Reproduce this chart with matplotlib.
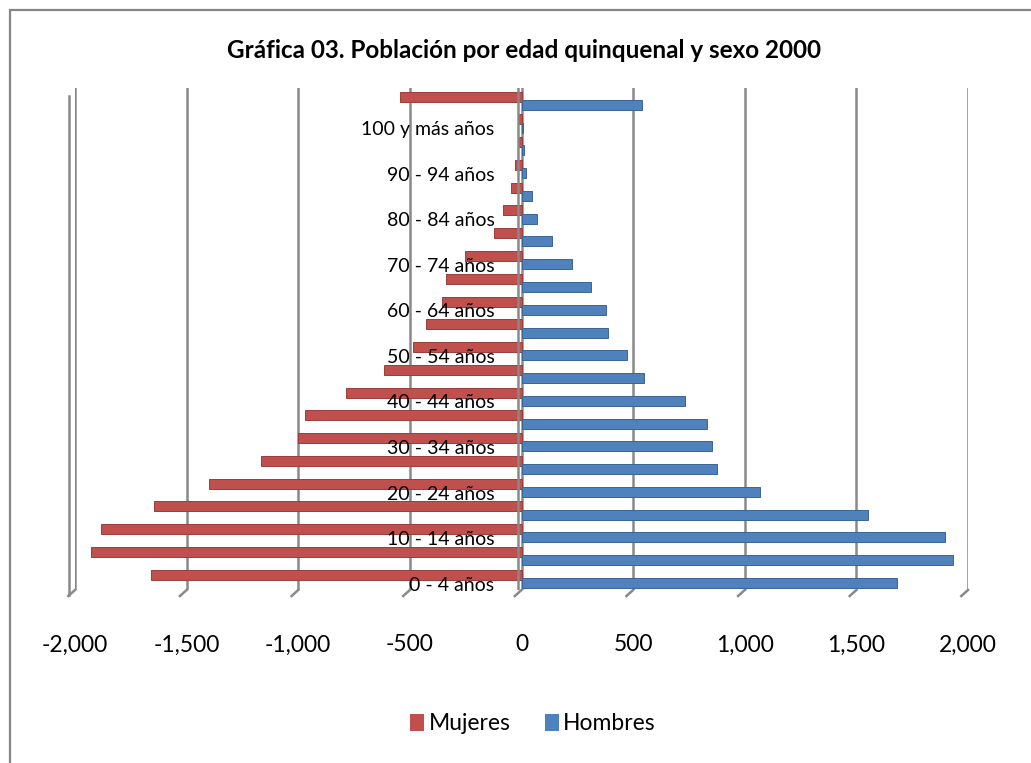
import matplotlib.pyplot as plt
import numpy as np
from matplotlib.patches import Patch, Rectangle
import matplotlib.transforms as mtransforms

plt.rcParams['font.family'] = ['Lato', 'DejaVu Sans']

# age groups, bottom to top
categorias = ['0 - 4 años', '5 - 9 años', '10 - 14 años', '15 - 19 años', '20 - 24 años',
              '25 - 29 años', '30 - 34 años', '35 - 39 años', '40 - 44 años', '45 - 49 años',
              '50 - 54 años', '55 - 59 años', '60 - 64 años', '65 - 69 años', '70 - 74 años',
              '75 - 79 años', '80 - 84 años', '85 - 89 años', '90 - 94 años', '95 - 99 años',
              '100 y más años', 'No especificado']

mujeres = [-1661, -1930, -1885, -1648, -1402, -1169, -1003, -972, -784, -614,
           -484, -430, -358, -336, -251, -121, -81, -49, -27, -13, -9, -546]
hombres = [1682, 1932, 1896, 1551, 1068, 875, 853, 831, 732, 549,
           472, 387, 378, 311, 226, 138, 70, 48, 22, 12, 8, 540]

xticks = [-2000, -1500, -1000, -500, 0, 500, 1000, 1500, 2000]
xticklabels = ['-2,000', '-1,500', '-1,000', '-500', '0', '500', '1,000', '1,500', '2,000']

red = '#C0504D'
blue = '#4F81BD'
grid_c = '#898989'

fig = plt.figure(figsize=(10.31, 7.63), dpi=100)
ax = fig.add_axes([75/1031, 1 - 590/763, 893/1031, 502/763])

y = np.arange(len(categorias))
h = 0.44
ax.barh(y + 0.19, mujeres, height=h, color=red, edgecolor='#9B3D3A', linewidth=0.7, zorder=3)
ax.barh(y - 0.17, hombres, height=h, color=blue, edgecolor='#3A6597', linewidth=0.7, zorder=3)

ax.set_xlim(-2000, 2000)
ax.set_ylim(-0.48, 21.57)

# gridlines (back wall) with slanted floor ticks
for v in xticks:
    ax.axvline(v, color=grid_c, linewidth=1.8, zorder=1)
    ax.plot([v, v - 30], [0, -0.012], color=grid_c, linewidth=1.8,
            transform=ax.get_xaxis_transform(), clip_on=False, zorder=1)

# left wall double line
off = mtransforms.offset_copy(ax.get_xaxis_transform(), fig=fig, x=-6, y=0, units='dots')
ax.plot([-2000, -2000], [-0.01, 0.985], color=grid_c, linewidth=1.8,
        transform=off, clip_on=False, zorder=1)

# vertical axis line at zero (front plane)
off0 = mtransforms.offset_copy(ax.get_xaxis_transform(), fig=fig, x=-4, y=0, units='dots')
ax.plot([0, 0], [0, 1], color=grid_c, linewidth=1.8, transform=off0, zorder=4)

for s in ax.spines.values():
    s.set_visible(False)
ax.set_yticks([])
ax.set_xticks(xticks)
ax.set_xticklabels(xticklabels, fontsize=16.5)
ax.tick_params(axis='x', length=0, pad=32)

# category labels next to the axis, every other one
lab_t = mtransforms.offset_copy(ax.transData, fig=fig, x=-27, y=-6, units='dots')
for i, c in enumerate(categorias):
    if i % 2 == 0:
        ax.text(0, i, c, ha='right', va='center', fontsize=14, transform=lab_t, zorder=5)

fig.text(524/1031, 1 - 50/763, 'Gráfica 03. Población por edad quinquenal y sexo 2000',
         ha='center', va='center', fontsize=17.5, fontweight='bold')

handles = [Patch(facecolor=red, label='Mujeres'), Patch(facecolor=blue, label='Hombres')]
fig.legend(handles=handles, loc='center', bbox_to_anchor=(533/1031, 1 - 724/763), ncol=2,
           frameon=False, fontsize=16.5, handlelength=0.6, handleheight=0.75,
           handletextpad=0.2, columnspacing=1.5)

# outer chart frame
fig.patches.append(Rectangle((9.5/1031, -0.1), 1.2, 1.1 - 10.5/763, transform=fig.transFigure,
                             fill=False, edgecolor='#868686', linewidth=1.6))

fig.savefig('out.png', dpi=100)
